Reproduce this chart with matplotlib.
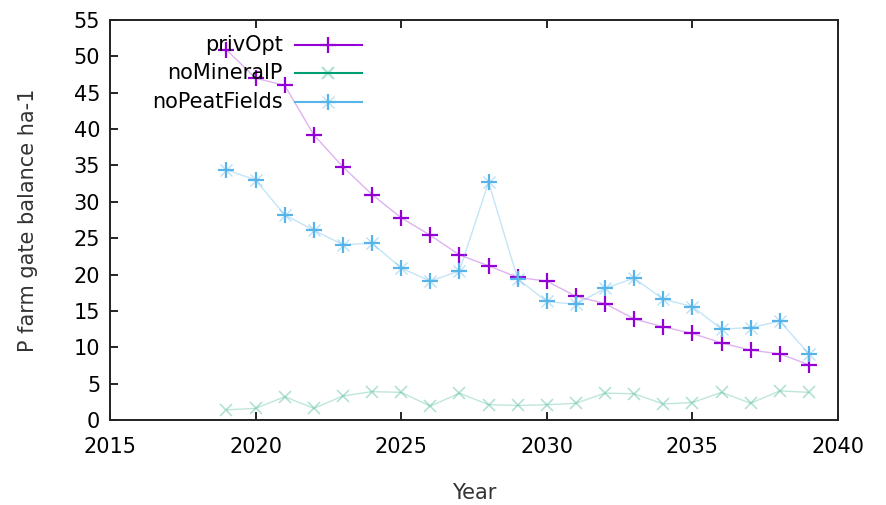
import matplotlib

matplotlib.use("Agg")
import matplotlib.pyplot as plt
from matplotlib.lines import Line2D

years = list(range(2019, 2040))

priv_opt = [50.9, 47.0, 46.0, 39.2, 34.8, 31.0, 27.8, 25.4, 22.7, 21.2, 19.6,
            19.1, 17.0, 16.0, 13.9, 12.8, 11.9, 10.6, 9.6, 9.1, 7.6]
no_mineral_p = [1.4, 1.6, 3.2, 1.6, 3.3, 3.9, 3.8, 1.9, 3.7, 2.1, 2.0,
                2.1, 2.3, 3.7, 3.6, 2.2, 2.4, 3.8, 2.3, 4.0, 3.8]
no_peat_fields = [34.4, 33.0, 28.2, 26.1, 24.1, 24.3, 20.9, 19.1, 20.5, 32.7, 19.4,
                  16.3, 15.9, 18.1, 19.5, 16.6, 15.6, 12.5, 12.7, 13.6, 9.1]

labels = ["privOpt", "noMineralP", "noPeatFields"]
colors = ["#9400D3", "#009E73", "#56B4E9"]
fs = 15

fig = plt.figure(figsize=(8.87, 5.05), dpi=100)
ax = fig.add_axes([110 / 887, 1 - 420 / 505, 728 / 887, 400 / 505])

# lines are drawn faint, markers on top
ax.plot(years, priv_opt, color=colors[0], lw=1, alpha=0.3)
ax.plot(years, priv_opt, ls="none", marker="+", ms=12, mew=1.6, color=colors[0])

ax.plot(years, no_mineral_p, color=colors[1], lw=1, alpha=0.25)
ax.plot(years, no_mineral_p, ls="none", marker="x", ms=9, mew=1.2, color=colors[1], alpha=0.3)

ax.plot(years, no_peat_fields, color=colors[2], lw=1, alpha=0.35)
ax.plot(years, no_peat_fields, ls="none", marker="+", ms=12, mew=1.6, color=colors[2])
ax.plot(years, no_peat_fields, ls="none", marker="x", ms=8, mew=1.0, color=colors[2], alpha=0.4)

ax.set_xlim(2015, 2040)
ax.set_ylim(0, 55)
ax.set_xticks(range(2015, 2041, 5))
ax.set_yticks(range(0, 56, 5))
ax.tick_params(direction="in", top=True, right=False, length=6, width=1.2, labelsize=fs)
ax.tick_params(axis="x", pad=12)
ax.tick_params(axis="y", pad=7)
for sp in ax.spines.values():
    sp.set_linewidth(1.4)
    sp.set_color("#222222")

ax.set_xlabel("Year", fontsize=fs, labelpad=19, color="#333333")
ax.set_ylabel("P farm gate balance ha-1", fontsize=fs, labelpad=26, color="#333333")

# gnuplot style key: text right aligned, sample to the right
key_y = [0.9375, 0.8675, 0.795]
markers = ["+", "x", "+"]
for lab, col, yk, mk in zip(labels, colors, key_y, markers):
    ax.text(0.2376, yk, lab, transform=ax.transAxes, ha="right", va="center", fontsize=fs)
    ax.add_line(Line2D([0.2541, 0.346], [yk, yk], transform=ax.transAxes, color=col, lw=1.5))
    alpha = 0.3 if lab == "noMineralP" else 1.0
    ax.add_line(Line2D([0.30], [yk], transform=ax.transAxes, color=col, marker=mk,
                       ms=12 if mk == "+" else 9, mew=1.6, ls="none", alpha=alpha))
    if lab == "noPeatFields":
        ax.add_line(Line2D([0.30], [yk], transform=ax.transAxes, color=col, marker="x",
                           ms=8, mew=1.0, ls="none", alpha=0.4))

fig.savefig("out.png", dpi=100)
